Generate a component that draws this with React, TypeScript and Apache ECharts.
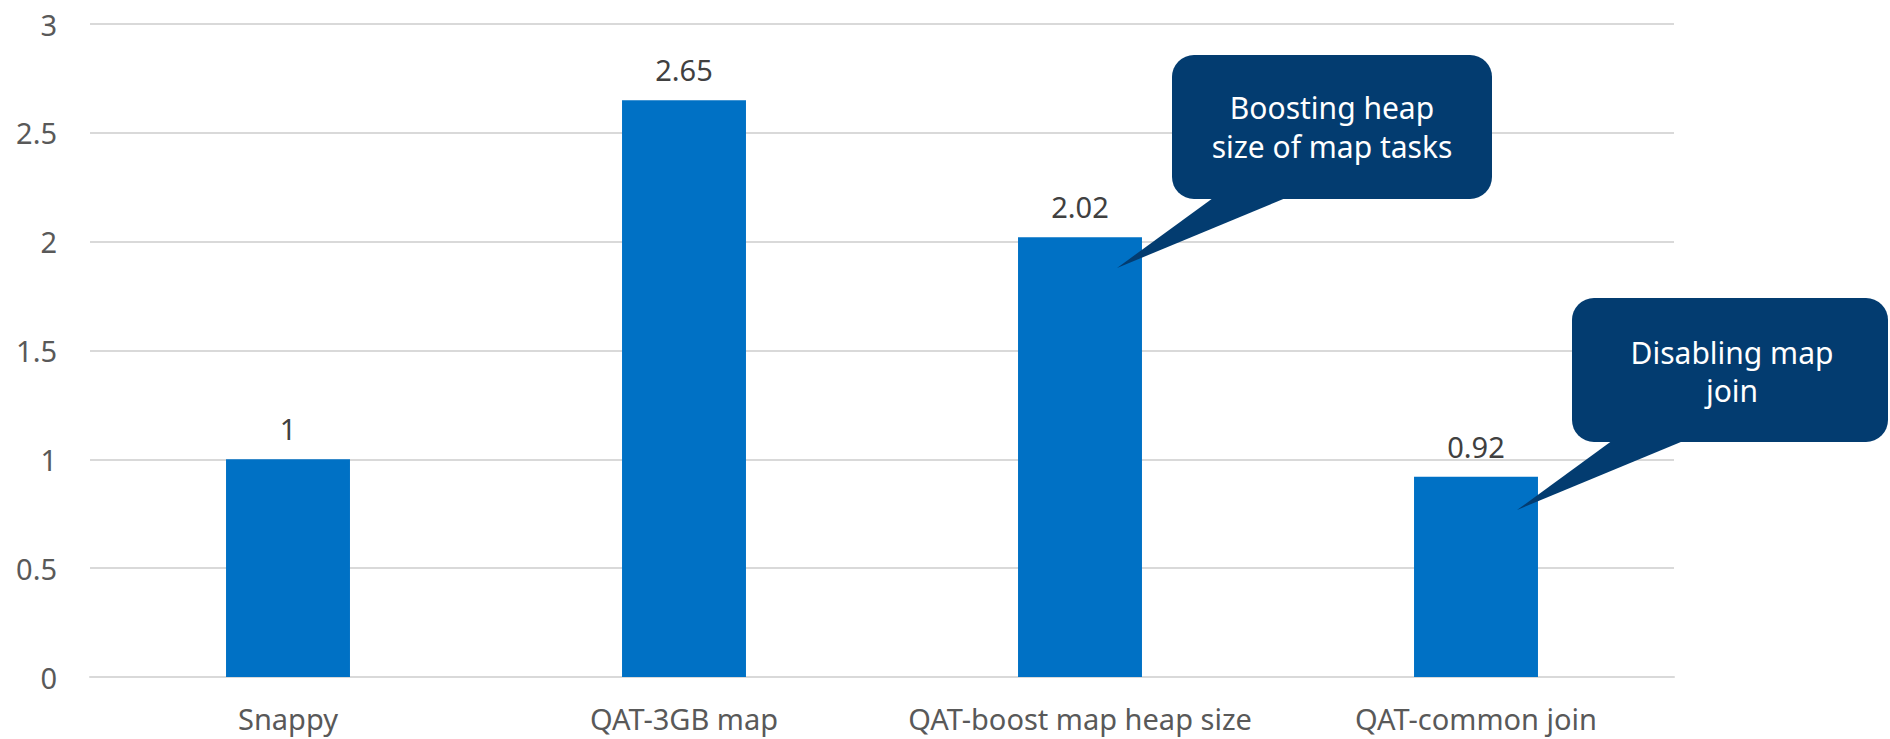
import React, { useEffect, useRef } from "react";
import * as echarts from "echarts";

const categories = ["Snappy", "QAT-3GB map", "QAT-boost map heap size", "QAT-common join"];
const values = [1, 2.65, 2.02, 0.92];
const yTicks = { min: 0, max: 3, interval: 0.5 };
const callout1Lines = ["Boosting heap", "size of map tasks"];
const callout2Lines = ["Disabling map", "join"];

const FONT = "'Noto Sans', 'Open Sans', sans-serif";
const CALLOUT = "#033c70";

export default function App() {
  const ref = useRef<HTMLDivElement>(null);
  useEffect(() => {
    document.body.style.margin = "0";
    const chart = echarts.init(ref.current!, null, { renderer: "svg" });
    chart.setOption({
      animation: false,
      backgroundColor: "#ffffff",
      grid: { left: 90, right: 216, top: 24, bottom: 62, containLabel: false },
      xAxis: {
        type: "category",
        data: categories,
        axisTick: { show: false },
        axisLine: { lineStyle: { color: "#d9d9d9", width: 2 } },
        axisLabel: { color: "#595959", fontSize: 29, fontFamily: FONT, margin: 27, interval: 0 },
      },
      yAxis: {
        type: "value",
        min: yTicks.min,
        max: yTicks.max,
        interval: yTicks.interval,
        axisLine: { show: false },
        axisTick: { show: false },
        axisLabel: { color: "#595959", fontSize: 29, fontFamily: FONT, margin: 33 },
        splitLine: { lineStyle: { color: "#d9d9d9", width: 2 } },
      },
      series: [
        {
          type: "bar",
          data: values,
          barWidth: "31.3%",
          itemStyle: { color: "#0071c5" },
          label: {
            show: true,
            position: "top",
            distance: 16,
            color: "#404040",
            fontSize: 29,
            fontFamily: FONT,
          },
        },
      ],
      graphic: [
        {
          type: "group",
          z: 100,
          children: [
            { type: "polygon", z: 100, shape: { points: [[1224, 190], [1305, 190], [1117, 268]] }, style: { fill: CALLOUT } },
            { type: "rect", z: 100, shape: { x: 1172, y: 55, width: 320, height: 144, r: 22 }, style: { fill: CALLOUT } },
            {
              type: "text",
              z: 101,
              x: 1332,
              y: 127,
              style: {
                text: callout1Lines.join("\n"),
                fill: "#ffffff",
                fontSize: 30,
                fontFamily: FONT,
                align: "center",
                verticalAlign: "middle",
                lineHeight: 39,
              },
            },
          ],
        },
        {
          type: "group",
          z: 100,
          children: [
            { type: "polygon", z: 100, shape: { points: [[1624, 432], [1705, 432], [1517, 510]] }, style: { fill: CALLOUT } },
            { type: "rect", z: 100, shape: { x: 1572, y: 298, width: 316, height: 144, r: 22 }, style: { fill: CALLOUT } },
            {
              type: "text",
              z: 101,
              x: 1732,
              y: 371,
              style: {
                text: callout2Lines.join("\n"),
                fill: "#ffffff",
                fontSize: 30,
                fontFamily: FONT,
                align: "center",
                verticalAlign: "middle",
                lineHeight: 38,
              },
            },
          ],
        },
      ],
    });
    return () => chart.dispose();
  }, []);
  return <div ref={ref} style={{ width: 1890, height: 739 }} />;
}
